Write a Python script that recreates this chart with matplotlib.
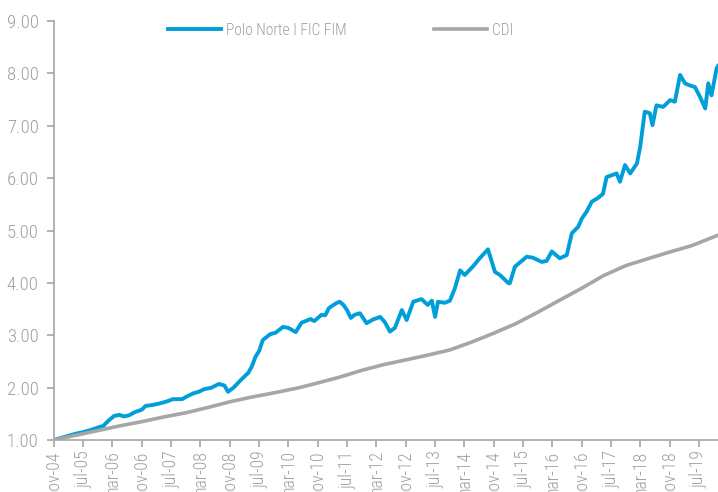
import pandas as pd
import matplotlib
matplotlib.use("Agg")
import matplotlib.pyplot as plt
import matplotlib.ticker as mticker

plt.rcParams['font.family'] = ['Roboto Condensed', 'DejaVu Sans']
plt.rcParams['font.stretch'] = 'condensed'
plt.rcParams['font.weight'] = 300

# fund (Polo Norte I FIC FIM)
fund_dates = ["2004-11-01", "2005-01-01", "2005-03-01", "2005-05-01", "2005-07-01", "2005-09-01",
              "2005-11-16", "2005-12-16", "2006-02-01", "2006-03-16", "2006-05-01", "2006-06-01",
              "2006-07-16", "2006-09-01", "2006-11-01", "2006-12-01", "2007-02-01", "2007-04-01",
              "2007-06-01", "2007-07-16", "2007-10-01", "2007-11-16", "2008-01-01", "2008-02-15",
              "2008-04-01", "2008-06-01", "2008-08-01", "2008-09-16", "2008-10-16", "2008-12-01",
              "2009-02-01", "2009-04-01", "2009-05-01", "2009-06-01", "2009-07-01", "2009-08-01",
              "2009-10-01", "2009-11-16", "2010-01-16", "2010-03-01", "2010-04-01", "2010-05-01",
              "2010-06-18", "2010-08-01", "2010-09-01", "2010-10-01", "2010-11-01", "2010-12-01",
              "2011-01-01", "2011-02-01", "2011-04-01", "2011-05-01", "2011-06-01", "2011-07-01",
              "2011-08-01", "2011-09-01", "2011-10-16", "2011-12-10", "2012-02-01", "2012-04-01",
              "2012-05-10", "2012-06-21", "2012-08-01", "2012-09-28", "2012-11-07", "2013-01-01",
              "2013-03-10", "2013-05-01", "2013-06-04", "2013-07-01", "2013-07-25", "2013-09-21",
              "2013-11-01", "2013-12-13", "2014-01-25", "2014-03-04", "2014-05-10", "2014-07-07",
              "2014-09-13", "2014-11-10", "2014-12-22", "2015-02-27", "2015-03-13", "2015-04-25",
              "2015-08-01", "2015-09-22", "2015-12-04", "2016-01-13", "2016-02-25", "2016-05-01",
              "2016-06-28", "2016-08-10", "2016-10-01", "2016-11-01", "2016-12-10", "2017-01-22",
              "2017-03-13", "2017-04-25", "2017-05-25", "2017-08-16", "2017-09-13", "2017-10-25",
              "2017-12-07", "2018-02-01", "2018-02-28", "2018-04-07", "2018-05-19", "2018-06-10",
              "2018-07-13", "2018-09-07", "2018-11-04", "2018-12-13", "2019-01-25", "2019-03-07",
              "2019-04-16", "2019-05-28", "2019-07-10", "2019-08-22", "2019-09-16", "2019-10-13",
              "2019-11-25", "2019-12-06"]
fund_values = [1.00, 1.04, 1.08, 1.12, 1.15, 1.19,
               1.25, 1.27, 1.38, 1.46, 1.48, 1.45,
               1.47, 1.53, 1.58, 1.65, 1.67, 1.70,
               1.74, 1.78, 1.78, 1.84, 1.89, 1.92,
               1.97, 2.00, 2.07, 2.04, 1.92, 2.00,
               2.15, 2.28, 2.40, 2.59, 2.70, 2.91,
               3.02, 3.05, 3.16, 3.14, 3.10, 3.06,
               3.24, 3.28, 3.31, 3.27, 3.33, 3.39,
               3.38, 3.52, 3.61, 3.64, 3.58, 3.48,
               3.33, 3.39, 3.42, 3.23, 3.30, 3.35,
               3.25, 3.07, 3.14, 3.48, 3.29, 3.64,
               3.69, 3.58, 3.66, 3.35, 3.64, 3.62,
               3.66, 3.90, 4.24, 4.15, 4.31, 4.47,
               4.64, 4.21, 4.15, 4.00, 3.99, 4.31,
               4.50, 4.48, 4.40, 4.42, 4.60, 4.47,
               4.53, 4.95, 5.07, 5.23, 5.36, 5.55,
               5.62, 5.70, 6.02, 6.09, 5.93, 6.25,
               6.09, 6.28, 6.60, 7.27, 7.24, 7.01,
               7.39, 7.36, 7.49, 7.46, 7.97, 7.81,
               7.77, 7.74, 7.55, 7.33, 7.81, 7.58,
               8.10, 8.14]

# CDI
cdi_dates = ["2004-11-01", "2005-05-01", "2005-11-01", "2006-05-01", "2006-11-01", "2007-05-01",
             "2007-11-01", "2008-05-01", "2008-11-01", "2009-05-01", "2009-11-01", "2010-06-01",
             "2010-11-01", "2011-05-01", "2011-11-01", "2012-05-01", "2012-11-01", "2013-05-01",
             "2013-11-01", "2014-05-01", "2014-11-01", "2015-05-01", "2015-11-01", "2016-05-01",
             "2016-11-01", "2017-05-01", "2017-11-01", "2018-05-01", "2018-11-01", "2019-05-01",
             "2019-12-06"]
cdi_values = [1.00, 1.09, 1.18, 1.27, 1.35, 1.44,
              1.52, 1.62, 1.73, 1.82, 1.90, 2.00,
              2.09, 2.20, 2.33, 2.44, 2.53, 2.62,
              2.72, 2.87, 3.04, 3.22, 3.44, 3.67,
              3.90, 4.14, 4.33, 4.46, 4.59, 4.71,
              4.91]

fund_x = pd.to_datetime(fund_dates)
cdi_x = pd.to_datetime(cdi_dates)

blue = "#009fda"
grey = "#a6a6a6"
txt = "#a0a0a0"

fig = plt.figure(figsize=(7.18, 4.92), dpi=100)
ax = fig.add_axes([0.0752, 0.1057, 0.9248, 0.8516])

ax.plot(fund_x, fund_values, color=blue, lw=2.8, label="Polo Norte I FIC FIM", solid_joinstyle="round")
ax.plot(cdi_x, cdi_values, color=grey, lw=2.6, label="CDI")

ax.set_ylim(1, 9)
ax.set_xlim(fund_x[0], fund_x[-1])
ax.yaxis.set_major_locator(mticker.MultipleLocator(1))
ax.yaxis.set_major_formatter(mticker.FormatStrFormatter("%.2f"))

ticks = pd.date_range("2004-11-01", "2019-12-01", freq="8MS")
ax.set_xticks(ticks)
ax.set_xticklabels([d.strftime("%b-%y").lower() for d in ticks], rotation=90)

for s in ["top", "right"]:
    ax.spines[s].set_visible(False)
for s in ["left", "bottom"]:
    ax.spines[s].set_color(grey)
    ax.spines[s].set_linewidth(1.2)
ax.tick_params(axis="both", colors=grey, labelcolor=txt, labelsize=13.5, length=5, width=1.2)
ax.tick_params(axis="y", pad=6)
ax.tick_params(axis="x", labelsize=12.8, pad=2.5)

ax.legend(loc="center", bbox_to_anchor=(0.432, 0.978), ncol=2, frameon=False,
          fontsize=11.2, labelcolor=txt, handlelength=3.4, handletextpad=0.35, columnspacing=5.6)

fig.savefig("out.png", dpi=100)
